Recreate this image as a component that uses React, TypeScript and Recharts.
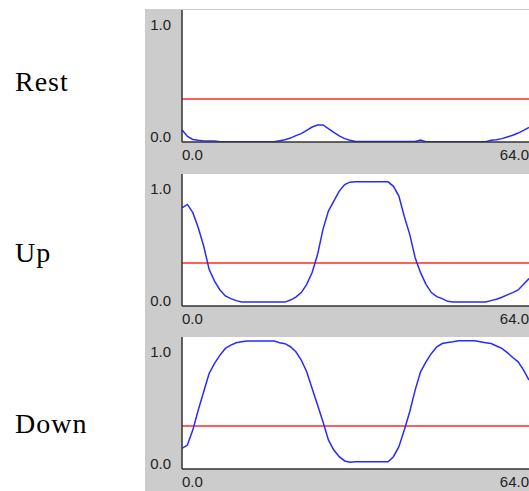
import { LineChart, Line, XAxis, YAxis, CartesianGrid, ReferenceLine } from 'recharts';

const steps = Array.from({ length: 65 }, (_, i) => i);

const rest = [
  0.11, 0.05, 0.023, 0.015, 0.01, 0.01, 0.008,
  0.002, 0.002, 0.002, 0.002, 0.002, 0.002, 0.002, 0.002, 0.002, 0.002, 0.002,
  0.012, 0.02, 0.035, 0.057, 0.075, 0.104, 0.134, 0.152, 0.152, 0.12, 0.086, 0.054, 0.03, 0.015,
  0.004, 0.004, 0.004, 0.004, 0.004, 0.004, 0.004, 0.004, 0.004, 0.004, 0.004, 0.004,
  0.018,
  0.003, 0.003, 0.003, 0.003, 0.003, 0.003, 0.003, 0.003, 0.003, 0.003, 0.003, 0.003,
  0.015, 0.02, 0.03, 0.045, 0.06, 0.08, 0.104, 0.13,
];

const up = [
  0.878, 0.908, 0.834, 0.7, 0.536, 0.328, 0.223, 0.143, 0.09, 0.066, 0.048, 0.036,
  0.035, 0.035, 0.035, 0.035, 0.035, 0.035, 0.035, 0.035,
  0.053, 0.08, 0.12, 0.194, 0.3, 0.46, 0.685, 0.848, 0.938, 1.027, 1.086, 1.107,
  1.11, 1.11, 1.11, 1.11, 1.11, 1.11, 1.11,
  1.07, 0.982, 0.8, 0.64, 0.432, 0.298, 0.194, 0.12, 0.084, 0.066, 0.042,
  0.035, 0.035, 0.035, 0.035, 0.035, 0.035, 0.035,
  0.048, 0.06, 0.078, 0.1, 0.12, 0.143, 0.194, 0.245,
];

const down = [
  0.185, 0.214, 0.35, 0.527, 0.69, 0.854, 0.944, 1.018, 1.078, 1.107, 1.129, 1.137,
  1.145, 1.145, 1.145, 1.145, 1.145, 1.145,
  1.129, 1.12, 1.093, 1.048, 0.973, 0.869, 0.72, 0.572, 0.423, 0.26, 0.17, 0.11, 0.072, 0.06,
  0.065, 0.065, 0.065, 0.065, 0.065, 0.065, 0.065,
  0.11, 0.2, 0.348, 0.512, 0.705, 0.869, 0.958, 1.033, 1.093, 1.122, 1.131, 1.137,
  1.146, 1.146, 1.146, 1.146,
  1.137, 1.129, 1.122, 1.1, 1.078, 1.04, 0.997, 0.958, 0.884, 0.795,
];

const threshold = 0.385;
const yTicks = [0, 1];
const xTicks = [0, 64];
const panels = [
  { name: 'Rest', values: rest },
  { name: 'Up', values: up },
  { name: 'Down', values: down },
];

const PANEL_TOP = 9;
const PANEL_H = 163.5;
const tickFont = { fontFamily: '"Liberation Sans", Arial, sans-serif', fontSize: 15, fill: '#222' };

const YTick = ({ x, y, payload }: any) => (
  <text x={x - 11} y={y} textAnchor="end" {...tickFont}>
    {payload.value.toFixed(1)}
  </text>
);

const XTick = ({ x, y, payload }: any) => (
  <text x={x} y={y + 17.5} textAnchor={payload.value === 0 ? 'start' : 'end'} {...tickFont}>
    {payload.value.toFixed(1)}
  </text>
);

function Panel({ values }: { values: number[] }) {
  const data = steps.map((s, i) => ({ step: s, v: values[i] }));
  return (
    <LineChart width={384} height={PANEL_H} data={data} margin={{ top: 1, right: 0, left: 0, bottom: 0 }}>
      <CartesianGrid horizontal={false} vertical={false} fill="#ffffff" fillOpacity={1} stroke="none" />
      <XAxis
        dataKey="step"
        type="number"
        domain={[0, 64]}
        ticks={xTicks}
        height={30.5}
        tickLine={false}
        tickSize={0}
        tickMargin={0}
        axisLine={{ stroke: '#333', strokeWidth: 1.5 }}
        tick={<XTick />}
        interval={0}
      />
      <YAxis
        type="number"
        domain={[0, 1.18]}
        ticks={yTicks}
        width={37}
        tickLine={false}
        tickSize={0}
        tickMargin={0}
        allowDataOverflow
        axisLine={{ stroke: '#333', strokeWidth: 1.5 }}
        tick={<YTick />}
        interval={0}
      />
      <ReferenceLine y={threshold} stroke="#ff2a2a" strokeWidth={1.5} />
      <Line type="linear" dataKey="v" stroke="#2a2aff" strokeWidth={1.5} dot={false} isAnimationActive={false} />
    </LineChart>
  );
}

export default function App() {
  return (
    <div style={{ position: 'fixed', left: 0, top: 0, width: 529, height: 491, overflow: 'hidden', background: '#fff' }}>
      <svg width={145} height={491} style={{ position: 'absolute', left: 0, top: 0 }}>
        {panels.map((p, i) => (
          <text
            key={p.name}
            x={15}
            y={91 + i * 171}
            fontFamily='"Liberation Serif", "DejaVu Serif", serif'
            fontSize={28}
            letterSpacing={1}
            fill="#000"
          >
            {p.name}
          </text>
        ))}
      </svg>
      <div style={{ position: 'absolute', left: 145, top: PANEL_TOP, width: 384, height: 491 - PANEL_TOP, background: '#cccccc' }}>
        {panels.map((p, i) => (
          <div key={p.name} style={{ position: 'absolute', left: 0, top: i * PANEL_H }}>
            <Panel values={p.values} />
          </div>
        ))}
      </div>
    </div>
  );
}
